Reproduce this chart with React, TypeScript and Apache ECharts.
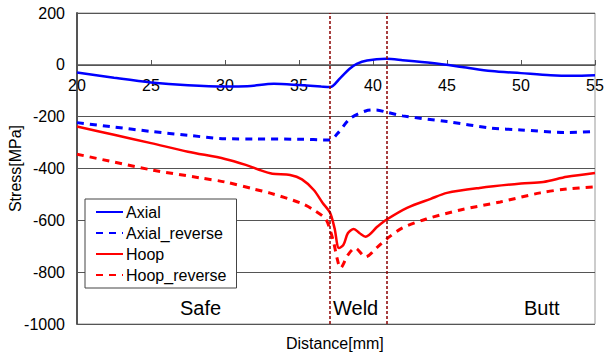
import React, { useEffect, useRef } from "react";
import * as echarts from "echarts";

const axialX = [20, 22.5, 25, 27.5, 30, 31.5, 33.3, 35, 36.5, 37.1, 37.8, 38.4, 38.9, 39.6, 40.9, 42, 44, 46, 48, 50, 52, 53.5, 55];
const axialY = [-30, -50, -68, -79, -84, -83, -73, -78, -84, -86, -50, -16, 4, 17, 23, 18, 7, -8, -24, -32, -40, -42, -40];

const axialRevX = [20, 22.5, 25, 27.5, 30, 32, 35, 37.1, 37.6, 38.5, 39.5, 40.2, 41, 42, 45, 48, 50, 53, 55];
const axialRevY = [-223, -240, -257, -272, -285, -286, -287, -290, -265, -205, -178, -174, -184, -197, -219, -244, -251, -261, -257];

const hoopX = [20, 22.5, 25, 27.5, 30, 31.4, 32.3, 33.2, 34.4, 35.2, 36.0, 36.6, 37.1, 37.4, 37.7, 38.0, 38.3, 38.7, 39.1, 39.5, 40.3, 40.9, 42.3, 43.9, 45, 47.2, 50, 51.5, 53.1, 55];
const hoopY = [-238, -270, -302, -335, -363, -386, -405, -420, -425, -442, -483, -533, -571, -630, -707, -695, -650, -633, -650, -663, -624, -598, -552, -517, -494, -475, -458, -452, -432, -417];

const hoopRevX = [20, 22.5, 25, 28.3, 30, 32, 33, 35.1, 36, 36.8, 37.1, 37.35, 37.6, 37.8, 38.3, 38.8, 39.5, 40.3, 41.1, 42, 43.6, 45.9, 48.6, 51.3, 53.1, 55];
const hoopRevY = [-345, -375, -405, -436, -452, -480, -494, -533, -560, -595, -637, -687, -753, -784, -734, -707, -741, -703, -664, -629, -595, -560, -529, -494, -479, -471];

const weldBounds = [37.1, 40.9];
const seriesNames = ["Axial", "Axial_reverse", "Hoop", "Hoop_reverse"];
const regionLabels = ["Safe", "Weld", "Butt"];

const zip = (xs: number[], ys: number[]) => xs.map((x, i) => [x, ys[i]]);

export default function App() {
  const ref = useRef<HTMLDivElement>(null);
  useEffect(() => {
    if (!ref.current) return;
    const chart = echarts.init(ref.current, null, { renderer: "svg" });
    const font = "'Liberation Sans', Arial, sans-serif";
    const line = (name: string, data: number[][], color: string, dashed: boolean, extra: any = {}) => ({
      name,
      type: "line",
      data,
      smooth: 0.3,
      symbol: "none",
      lineStyle: { color, width: dashed ? 3 : 2.5, type: dashed ? [7, 6] : "solid" },
      itemStyle: { color },
      z: 3,
      ...extra,
    });
    chart.setOption({
      animation: false,
      textStyle: { fontFamily: font },
      grid: {
        left: 77,
        right: 9,
        top: 13,
        bottom: 31,
        containLabel: false,
        outerBoundsMode: "none",
        show: true,
        borderColor: "#999",
        borderWidth: 1,
      },
      legend: {
        data: seriesNames,
        orient: "vertical",
        left: 85,
        top: 199,
        itemWidth: 27,
        itemHeight: 14,
        itemGap: 5,
        padding: [5, 10, 5, 10],
        backgroundColor: "#fff",
        borderColor: "#444",
        borderWidth: 1,
        borderRadius: 0,
        itemStyle: { color: "rgba(0,0,0,0)", borderWidth: 0, opacity: 0 },
        textStyle: { fontSize: 16, color: "#000", fontFamily: font, padding: [0, 0, 0, -2] },
      },
      xAxis: {
        type: "value",
        min: 20,
        max: 55,
        interval: 5,
        position: "bottom",
        offset: -259,
        axisLine: { onZero: false, lineStyle: { color: "#555", width: 1.5 } },
        axisTick: { show: true, inside: true, length: 5, lineStyle: { color: "#555" } },
        axisLabel: { fontSize: 16, color: "#000", margin: 12, fontFamily: font },
        splitLine: { show: false },
      },
      yAxis: {
        type: "value",
        min: -1000,
        max: 200,
        interval: 200,
        name: "Stress[MPa]",
        nameLocation: "middle",
        nameGap: 54,
        nameMoveOverlap: false,
        nameTextStyle: { fontSize: 16, color: "#000", fontFamily: font },
        axisLine: { show: true, onZero: false, lineStyle: { color: "#555", width: 2 } },
        axisTick: { show: false },
        axisLabel: { fontSize: 16, color: "#000", margin: 12, fontFamily: font, formatter: (v: number) => String(v) },
        splitLine: { show: true, lineStyle: { color: "#555", width: 1 } },
      },
      graphic: [
        { type: "text", left: 180, top: 298, style: { text: regionLabels[0], fontSize: 20, fill: "#000", fontFamily: font } },
        { type: "text", left: 333, top: 298, style: { text: regionLabels[1], fontSize: 20, fill: "#000", fontFamily: font } },
        { type: "text", left: 524, top: 298, style: { text: regionLabels[2], fontSize: 20, fill: "#000", fontFamily: font } },
        { type: "text", left: 286, top: 335, style: { text: "Distance[mm]", fontSize: 16, fill: "#000", fontFamily: font } },
      ],
      series: [
        line(seriesNames[0], zip(axialX, axialY), "#0000ff", false, {
          markLine: {
            silent: true,
            symbol: "none",
            label: { show: false },
            lineStyle: { color: "#8b0000", width: 1.5, type: [3, 2] },
            data: weldBounds.map((x) => ({ xAxis: x })),
          },
        }),
        line(seriesNames[1], zip(axialRevX, axialRevY), "#0000ff", true),
        line(seriesNames[2], zip(hoopX, hoopY), "#ff0000", false),
        line(seriesNames[3], zip(hoopRevX, hoopRevY), "#ff0000", true),
      ],
    });
    return () => chart.dispose();
  }, []);
  return <div ref={ref} style={{ width: 604, height: 355, position: "absolute", left: 0, top: 0 }} />;
}
